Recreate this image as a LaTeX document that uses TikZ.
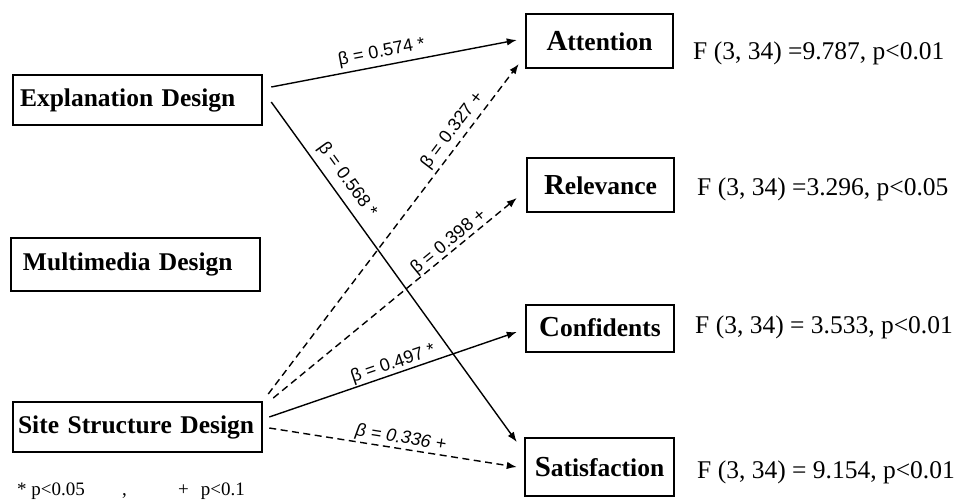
\documentclass[tikz,border=0pt]{standalone}
\usepackage{fontspec}
\setmainfont{Liberation Serif}
\setsansfont{Liberation Sans}
\usetikzlibrary{arrows.meta,calc}
\newcommand\firstlet[1]{{\fontsize{29}{30}\selectfont #1}}
\begin{document}
\begin{tikzpicture}[x=1pt,y=-1pt,
  box/.style={draw, line width=2.5pt, inner sep=0pt, font=\fontsize{25.5}{30}\selectfont\bfseries},
  ftext/.style={font=\fontsize{25.5}{30}\selectfont, anchor=base west, inner sep=0pt},
  conn/.style={line width=1.4pt, -{Latex[length=10pt,width=7.5pt]}},
  dconn/.style={conn, dash pattern=on 7pt off 4.5pt},
  beta/.style={font=\sffamily\fontsize{18}{20}\selectfont, sloped, inner sep=0pt}
]
\useasboundingbox (0,0) rectangle (963,501);

\node[box, minimum height=50pt, text width=235pt, inner xsep=7pt, align=left] (expl) at (137.5,100) {Explanation Design};
\node[box, minimum height=53pt, text width=225pt, inner xsep=12pt, align=left] (multi) at (135.5,264.5) {Multimedia Design};
\node[box, minimum height=50pt, text width=239pt, inner xsep=5pt, align=left] (site) at (137.5,427) {Site Structure Design};

\node[box, minimum width=147pt, minimum height=54pt] (att) at (599.5,41) {\firstlet{A}ttention};
\node[box, minimum width=147pt, minimum height=54pt] (rel) at (600.5,185) {\firstlet{R}elevance};
\node[box, minimum width=148pt, minimum height=47pt] (conf) at (600,328.5) {\raisebox{4pt}{\firstlet{C}onfidents}};
\node[box, minimum width=149pt, minimum height=58pt] (sat) at (599.5,467) {\firstlet{S}atisfaction};

\node[ftext] (fa) at (693,59) {F (3, 34) =9.787, p<0.01};
\node[ftext] (fr) at (697,195) {F (3, 34) =3.296, p<0.05};
\node[ftext] (fc) at (695,333) {F (3, 34) = 3.533, p<0.01};
\node[ftext] (fs) at (697,478) {F (3, 34) = 9.154, p<0.01};

\node[anchor=base west, inner sep=0pt, font=\fontsize{19}{20}\selectfont] (legend) at (17,495.5) {\makebox[105pt][l]{* p<0.05}\makebox[56pt][l]{,}+\hspace{12pt}p<0.1};

\draw[conn] ($(expl.east)+(8,-13)$) -- node[beta, above=4pt, pos=0.46] {β = 0.574 *} ($(att.west)+(-8,-1)$);
\draw[conn] ($(expl.east)+(8,2)$) -- node[beta, above=6.6pt, pos=0.257] {β = 0.568 *} ($(sat.west)+(-7,-25)$);
\draw[dconn] ($(site.east)+(5,-33)$) -- node[beta, above=3.6pt, pos=0.776] {β = 0.327 +} ($(att.west)+(-6,23)$);
\draw[dconn] ($(site.east)+(10,-29)$) -- node[beta, above=0pt, pos=0.744] {β = 0.398 +} ($(rel.west)+(-9,13)$);
\draw[conn] ($(site.east)+(6,-10)$) -- node[beta, above=0.6pt, pos=0.513] {β = 0.497 *} ($(conf.west)+(-8,3.5)$);
\draw[dconn] ($(site.east)+(6,1)$) -- node[beta, above=1.2pt, pos=0.525] {\itshape β = 0.336 +} ($(sat.west)+(-7,0)$);
\end{tikzpicture}
\end{document}
